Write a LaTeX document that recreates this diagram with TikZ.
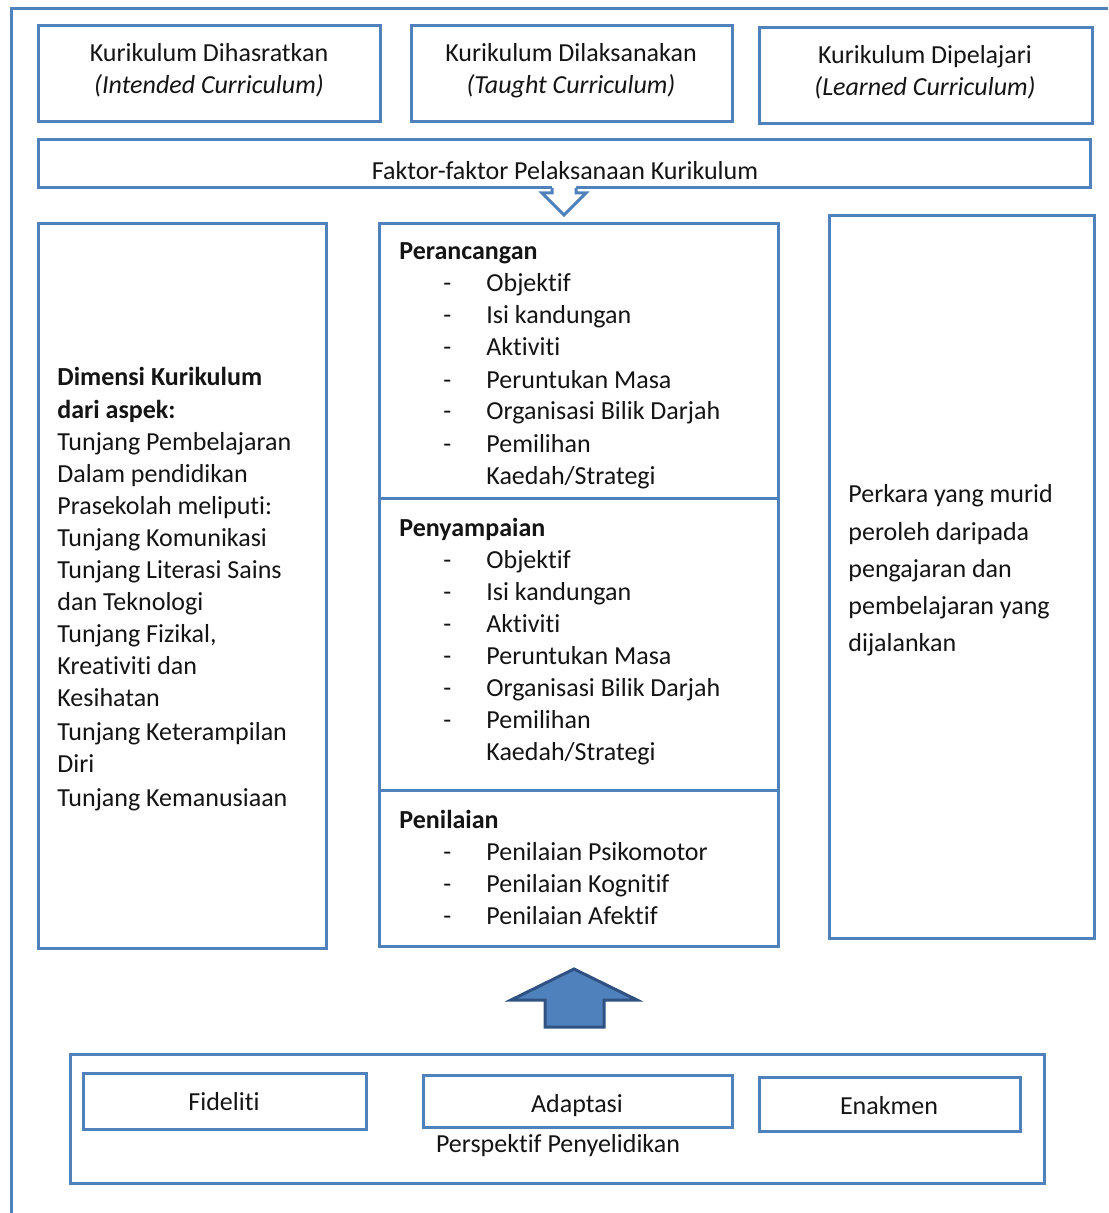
\documentclass[tikz,border=0pt]{standalone}
\usepackage{fontspec}
\setmainfont{Carlito}[Ligatures=NoCommon]
\usetikzlibrary{fit}
\definecolor{bblue}{HTML}{4F81BD}
\definecolor{adark}{HTML}{2F5282}
\definecolor{txt}{HTML}{141414}
\begin{document}
\begin{tikzpicture}[x=0.5pt,y=-0.5pt,
  box/.style={draw=bblue,line width=1.5pt,inner sep=0pt,fill=white},
  t/.style={anchor=base west,inner sep=0pt,yshift=-1pt,text=txt,font=\fontsize{13}{16}\selectfont},
  tc/.style={t,anchor=base},
  tb/.style={t,font=\fontsize{13}{16}\selectfont\bfseries}]
\useasboundingbox (0,0) rectangle (1108,1213);
% outer frame
\coordinate (fbl) at (11,1213);
\coordinate (ftl) at (11,9);
\coordinate (ftr) at (1108,9);
\draw[bblue,line width=1.5pt] (fbl) -- (ftl) -- (ftr);
% top boxes
\node[box,fit={(38,26)(380,122)}] (k1) {};
\node[tc] (k1a) at (209,60) {Kurikulum Dihasratkan};
\node[tc] (k1b) at (209,92) {\itshape (Intended Curriculum)};
\node[box,fit={(411,26)(732,122)}] (k2) {};
\node[tc] (k2a) at (571,60) {Kurikulum Dilaksanakan};
\node[tc] (k2b) at (571,92) {\itshape (Taught Curriculum)};
\node[box,fit={(759,28)(1092,124)}] (k3) {};
\node[tc] (k3a) at (925,62) {Kurikulum Dipelajari};
\node[tc] (k3b) at (925,94) {\itshape (Learned Curriculum)};
% faktor
\node[box,fit={(38,140)(1090,188)}] (fk) {};
\node[tc] (fkt) at (565,178) {Faktor-faktor Pelaksanaan Kurikulum};
\fill[white] (552,186) -- (552,193) -- (542,193) -- (564,215) -- (586,193) -- (576,193) -- (576,186) -- cycle;
\draw[bblue,line width=1.5pt,line join=miter] (552,188) -- (552,193) -- (542,193) -- (564,215) -- (586,193) -- (576,193) -- (576,188);
% left box
\node[box,fit={(38,224)(326,948)}] (lb) {};
\node[tb] (l1) at (57,384) {Dimensi Kurikulum};
\node[tb] (l2) at (57,416) {dari aspek:};
\node[t] (l3) at (57,448) {Tunjang Pembelajaran};
\node[t] (l4) at (57,480) {Dalam pendidikan};
\node[t] (l5) at (57,512) {Prasekolah meliputi:};
\node[t] (l6) at (57,544) {Tunjang Komunikasi};
\node[t] (l7) at (57,576) {Tunjang Literasi Sains};
\node[t] (l8) at (57,608) {dan Teknologi};
\node[t] (l9) at (57,640) {Tunjang Fizikal,};
\node[t] (l10) at (57,672) {Kreativiti dan};
\node[t] (l11) at (57,704) {Kesihatan};
\node[t] (l12) at (57,738) {Tunjang Keterampilan};
\node[t] (l13) at (57,770) {Diri};
\node[t] (l14) at (57,804) {Tunjang Kemanusiaan};
% middle stack
\node[box,fit={(379,224)(778,498)}] (m1) {};
\node[box,fit={(379,498)(778,790)}] (m2) {};
\node[box,fit={(379,790)(778,946)}] (m3) {};
\node[tb] (p0) at (399,258) {Perancangan};
\node[t] (pd1) at (443,290) {-};
\node[t] (p1) at (486,290) {Objektif};
\node[t] (pd2) at (443,322) {-};
\node[t] (p2) at (486,322) {Isi kandungan};
\node[t] (pd3) at (443,354) {-};
\node[t] (p3) at (486,354) {Aktiviti};
\node[t] (pd4) at (443,386) {-};
\node[t] (p4) at (486,386) {Peruntukan Masa};
\node[t] (pd5) at (443,418) {-};
\node[t] (p5) at (486,418) {Organisasi Bilik Darjah};
\node[t] (pd6) at (443,450) {-};
\node[t] (p6) at (486,450) {Pemilihan};
\node[t] (p7) at (486,482) {Kaedah/Strategi};
\node[tb] (s0) at (399,534) {Penyampaian};
\node[t] (sd1) at (443,566) {-};
\node[t] (s1) at (486,566) {Objektif};
\node[t] (sd2) at (443,598) {-};
\node[t] (s2) at (486,598) {Isi kandungan};
\node[t] (sd3) at (443,630) {-};
\node[t] (s3) at (486,630) {Aktiviti};
\node[t] (sd4) at (443,662) {-};
\node[t] (s4) at (486,662) {Peruntukan Masa};
\node[t] (sd5) at (443,694) {-};
\node[t] (s5) at (486,694) {Organisasi Bilik Darjah};
\node[t] (sd6) at (443,726) {-};
\node[t] (s6) at (486,726) {Pemilihan};
\node[t] (s7) at (486,758) {Kaedah/Strategi};
\node[tb] (n0) at (399,826) {Penilaian};
\node[t] (nd1) at (443,858) {-};
\node[t] (n1) at (486,858) {Penilaian Psikomotor};
\node[t] (nd2) at (443,890) {-};
\node[t] (n2) at (486,890) {Penilaian Kognitif};
\node[t] (nd3) at (443,922) {-};
\node[t] (n3) at (486,922) {Penilaian Afektif};
% right box
\node[box,fit={(829,216)(1094,938)}] (rb) {};
\node[t] (r1) at (848,500) {Perkara yang murid};
\node[t] (r2) at (848,538) {peroleh daripada};
\node[t] (r3) at (848,575) {pengajaran dan};
\node[t] (r4) at (848,612) {pembelajaran yang};
\node[t] (r5) at (848,649) {dijalankan};
% up arrow
\filldraw[fill=bblue,draw=adark,line width=1.5pt,line join=miter] (574,969) -- (637,1000) -- (604,1000) -- (604,1027) -- (545,1027) -- (545,1000) -- (511,1000) -- cycle;
% bottom
\node[box,fit={(70,1054)(1044,1183)}] (bo) {};
\node[box,fit={(83,1073)(366,1129)}] (b1) {};
\node[tc] (b1t) at (224,1108) {Fideliti};
\node[box,fit={(423,1075)(732,1127)}] (b2) {};
\node[tc] (b2t) at (577,1110) {Adaptasi};
\node[box,fit={(759,1077)(1020,1131)}] (b3) {};
\node[tc] (b3t) at (889,1112) {Enakmen};
\node[tc] (bpt) at (558,1150) {Perspektif Penyelidikan};
\end{tikzpicture}
\end{document}
